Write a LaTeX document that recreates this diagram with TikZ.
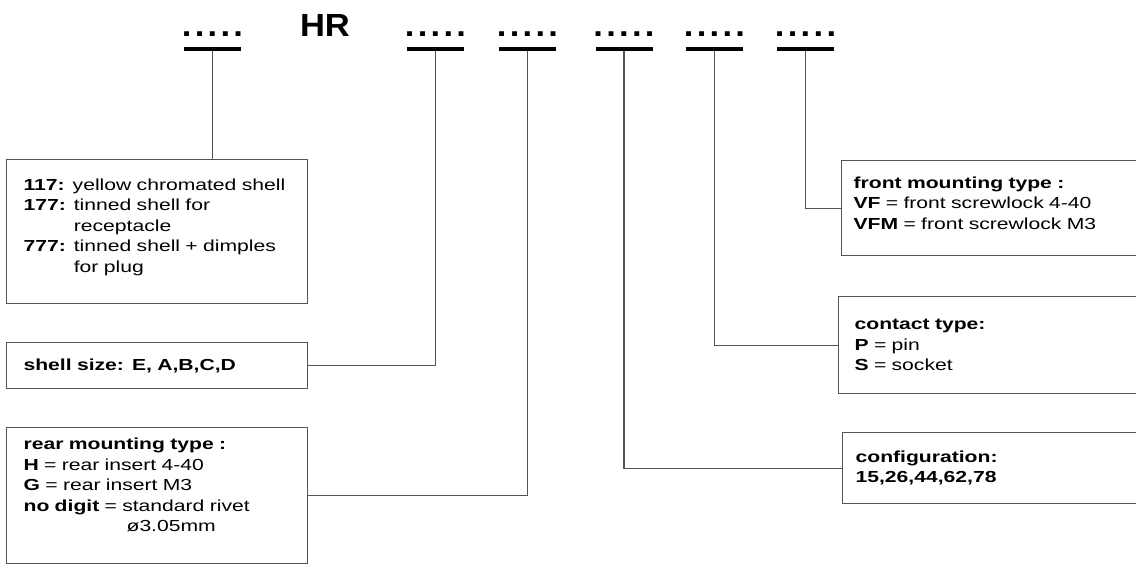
\documentclass[tikz,border=0pt]{standalone}
\usepackage{fontspec}
\setmainfont[FakeStretch=1.32]{Liberation Sans}
\newfontfamily\codefont[FakeStretch=1.08]{Liberation Sans}
\usepackage{tikz}
\usetikzlibrary{positioning}
\definecolor{frame}{RGB}{85, 85, 85}

\newcommand{\dotrow}{.\kern3.3pt.\kern3.3pt.\kern3.3pt.\kern3.3pt.}

\begin{document}
\begin{tikzpicture}[
    x=1pt, y=-1pt,
    codetext/.style={font=\codefont\fontsize{32pt}{32pt}\selectfont\bfseries, inner sep=0pt, anchor=base},
    codebar/.style={fill=black, minimum width=57pt, minimum height=4pt, inner sep=0pt},
    legend/.style={draw=frame, line width=1.2pt, anchor=north west, align=left, inner ysep=0pt,
      font=\fontsize{16pt}{20.5pt}\selectfont},
    link/.style={draw=frame, line width=1.2pt},
  ]
  \useasboundingbox (0,0) rectangle (1136,566);

  % part number
  \node[codetext] (hr) at (325,36) {HR};
  \foreach \n/\x in {1/212.5, 2/435.5, 3/527.5, 4/624, 5/714.5, 6/805.5} {
    \node[codetext] (dots\n) at (\x,36) {\dotrow};
    \node[codebar] (bar\n) at (\x,49) {};
  }

  % left legends
  \node[legend, inner xsep=17pt, text width=267pt, minimum height=144pt, text depth=94pt] (plating) at (6,159)
    {\textbf{117:} yellow chromated shell\\
     \textbf{177:} tinned shell for\\
     \phantom{\textbf{177:} }receptacle\\
     \textbf{777:} tinned shell + dimples\\
     \phantom{\textbf{777:} }for plug};
  \node[legend, inner xsep=17pt, text width=267pt, minimum height=46pt] (size) at (6,342)
    {\textbf{shell size: E, A,B,C,D}};
  \node[legend, inner xsep=17pt, text width=267pt, minimum height=136pt, text depth=103pt] (rear) at (6,427)
    {\textbf{rear mounting type :}\\
     \textbf{H} = rear insert 4-40\\
     \textbf{G} = rear insert M3\\
     \textbf{no digit} = standard rivet\\
     \hspace*{103pt}ø3.05mm};

  % right legends
  \node[legend, inner xsep=12pt, text width=300pt, minimum height=95pt, text depth=51pt] (front) at (841,160)
    {\textbf{front mounting type :}\\
     \textbf{VF} = front screwlock 4-40\\
     \textbf{VFM} = front screwlock M3};
  \node[legend, inner xsep=16pt, text width=300pt, minimum height=97pt] (contact) at (838,296)
    {\textbf{contact type:}\\
     \textbf{P} = pin\\
     \textbf{S} = socket};
  \node[legend, inner xsep=13pt, text width=300pt, minimum height=71pt] (config) at (842,432)
    {\textbf{configuration:}\\
     \textbf{15,26,44,62,78}};

  % leaders
  \draw[link] (bar1.south) -- (bar1.south |- plating.north);
  \draw[link] (size.east) -| (bar2.south);
  \draw[link] (rear.east) -| (bar3.south);
  \draw[link] (config.west) -| (bar4.south);
  \draw[link] (contact.west) -| (bar5.south);
  \draw[link] (front.west) -| (bar6.south);

\end{tikzpicture}
\end{document}
